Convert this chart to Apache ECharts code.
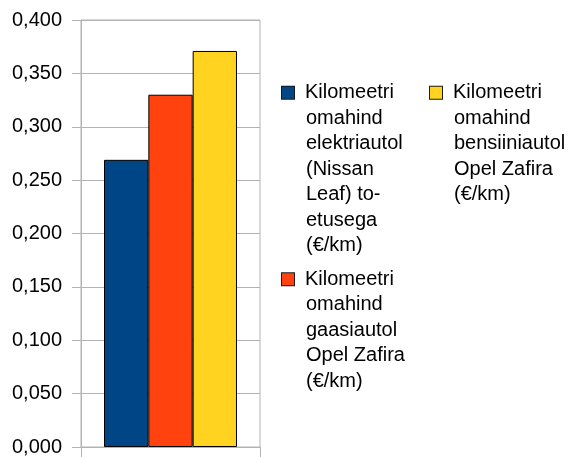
<!DOCTYPE html>
<html>
<head>
<meta charset="utf-8">
<script src="https://cdn.jsdelivr.net/npm/echarts@6/dist/echarts.min.js"></script>
<style>
  html, body { margin: 0; padding: 0; background: #fff; }
  #chart_div { width: 575px; height: 457px; }
</style>
</head>
<body>
<div id="chart_div"></div>
<script>
// ----------- 数据 -----------
var categories = ['']
var series_names = [
    'Kilomeetri omahind elektriautol (Nissan Leaf) to-etusega (€/km)',
    'Kilomeetri omahind gaasiautol Opel Zafira (€/km)',
    'Kilomeetri omahind bensiiniautol Opel Zafira (€/km)'
]
// 图例换行
var legend_lines = [
    ['Kilomeetri', 'omahind', 'elektriautol', '(Nissan', 'Leaf) to-', 'etusega', '(€/km)'],
    ['Kilomeetri', 'omahind', 'gaasiautol', 'Opel Zafira', '(€/km)'],
    ['Kilomeetri', 'omahind', 'bensiiniautol', 'Opel Zafira', '(€/km)']
]
var values = [0.269, 0.330, 0.371]
var colorList = ['#004586', '#ff420e', '#ffd320']
var y_min = 0, y_max = 0.4, y_interval = 0.05

var grid_color = '#b3b3b3'
var font = 'Liberation Sans'
var line_h = 25.5

// ----------- 图例样式 -----------
var rich = {
    gap: { width: 11 },
    ind: { width: 24 }
}
colorList.forEach(function (c, i) {
    rich['sq' + i] = { width: 12, height: 12, backgroundColor: c, borderColor: '#1a1a1a', borderWidth: 1 }
})

function legend_formatter(name) {
    var idx = series_names.indexOf(name)
    var lines = legend_lines[idx]
    return lines.map(function (t, i) {
        return (i == 0 ? '{sq' + idx + '|}{gap|}' : '{ind|}') + t
    }).join('\n')
}

function make_legend(names, left, top, gap) {
    return {
        data: names,
        orient: 'vertical',
        left: left,
        top: top,
        padding: 0,
        itemGap: gap,
        icon: 'none',
        itemWidth: 0,
        itemHeight: 1,
        selectedMode: false,
        formatter: legend_formatter,
        textStyle: {
            color: '#000',
            fontFamily: font,
            fontSize: 20,
            lineHeight: line_h,
            rich: rich
        }
    }
}

var series = series_names.map(function (n, i) {
    return {
        name: n,
        type: 'bar',
        data: [values[i]],
        barGap: 0,
        barCategoryGap: '25.7%',
        itemStyle: { color: colorList[i], borderColor: '#000', borderWidth: 1 }
    }
})

var option = {
    animation: false,
    grid: {
        left: 81, right: 315, top: 20, bottom: 10,
        show: true, borderColor: grid_color, borderWidth: 1,
        outerBoundsMode: 'none'
    },
    legend: [
        make_legend([series_names[0], series_names[1]], 277, 80, 8),
        make_legend([series_names[2]], 425, 80, 8)
    ],
    xAxis: {
        type: 'category',
        data: categories,
        axisLine: { lineStyle: { color: grid_color } },
        axisTick: { show: true, length: 10, lineStyle: { color: grid_color } },
        axisLabel: { show: false },
        splitLine: { show: false }
    },
    yAxis: {
        type: 'value',
        min: y_min,
        max: y_max,
        interval: y_interval,
        axisLine: { show: true, lineStyle: { color: grid_color } },
        axisTick: { show: true, length: 9, lineStyle: { color: grid_color } },
        splitLine: { show: true, lineStyle: { color: grid_color } },
        axisLabel: {
            margin: 19,
            color: '#000',
            fontFamily: font,
            fontSize: 20,
            formatter: function (v) {
                return v.toFixed(3).replace('.', ',')
            }
        }
    },
    series: series
}

var chart = echarts.init(document.getElementById('chart_div'))
chart.setOption(option)
</script>
</body>
</html>
